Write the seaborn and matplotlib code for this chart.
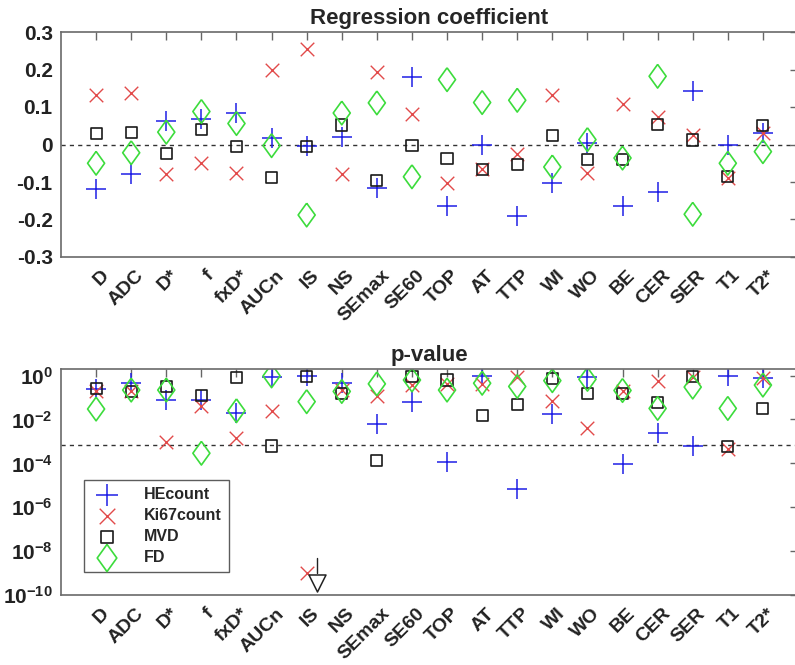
import numpy as np
import pandas as pd
import matplotlib
matplotlib.use("Agg")
import matplotlib.pyplot as plt
import matplotlib.transforms as mtransforms
import seaborn as sns

categories = ["D", "ADC", "D*", "f", "fxD*", "AUCn", "IS", "NS", "SEmax", "SE60",
              "TOP", "AT", "TTP", "WI", "WO", "BE", "CER", "SER", "T1", "T2*"]

coef_he = [-0.118, -0.079, 0.063, 0.068, 0.084, 0.018, -0.004, 0.020, -0.115, 0.181,
           -0.163, 0.000, -0.190, -0.102, 0.003, -0.163, -0.128, 0.144, 0.000, 0.031]
coef_ki67 = [0.133, 0.137, -0.079, -0.049, -0.076, 0.199, 0.255, -0.078, 0.194, 0.081,
             -0.102, -0.064, -0.026, 0.133, -0.077, 0.109, 0.073, 0.025, -0.088, 0.031]
coef_mvd = [0.029, 0.033, -0.025, 0.041, -0.005, -0.089, -0.005, 0.052, -0.096, -0.002,
            -0.038, -0.066, -0.053, 0.025, -0.040, -0.040, 0.053, 0.012, -0.086, 0.051]
coef_fd = [-0.050, -0.022, 0.033, 0.088, 0.056, -0.003, -0.188, 0.084, 0.111, -0.086,
           0.173, 0.112, 0.118, -0.060, 0.013, -0.036, 0.182, -0.186, -0.050, -0.019]

p_he = [0.24, 0.45, 0.078, 0.078, 0.019, 0.83, 0.95, 0.45, 0.006, 0.06,
        1.1e-4, 0.93, 6.8e-6, 0.017, 0.9, 9.1e-5, 2.3e-3, 6.2e-4, 0.95, 0.81]
p_ki67 = [0.2, 0.19, 9.8e-4, 0.042, 1.4e-3, 0.025, 9.8e-10, 0.22, 0.12, 0.37,
          0.42, 0.42, 0.89, 0.069, 4.0e-3, 0.19, 0.59, 0.89, 4.4e-4, 0.81]
p_mvd = [0.26, 0.19, 0.32, 0.12, 0.81, 6.2e-4, 0.95, 0.155, 1.4e-4, 0.93,
         0.63, 0.015, 0.046, 0.76, 0.155, 0.155, 0.059, 0.89, 5.8e-4, 0.032]
p_fd = [0.030, 0.22, 0.22, 2.9e-4, 0.025, 0.97, 0.065, 0.19, 0.42, 0.63,
        0.22, 0.45, 0.32, 0.59, 0.68, 0.21, 0.032, 0.30, 0.032, 0.37]

p_threshold = 6.6e-4
offscale_p = 3.6e-10      # off-scale marker at IS
offscale_tail = 5.0e-9

series = ["HEcount", "Ki67count", "MVD", "FD"]

sns.set_style("white")
plt.rcParams["font.family"] = ["Liberation Sans", "DejaVu Sans"]
plt.rcParams["font.weight"] = "bold"
plt.rcParams["mathtext.fontset"] = "custom"
plt.rcParams["mathtext.rm"] = "Liberation Sans:bold"
plt.rcParams["mathtext.bf"] = "Liberation Sans:bold"
plt.rcParams["mathtext.default"] = "bf"

diamond = [(0, 1), (0.72, 0), (0, -1), (-0.72, 0), (0, 1)]
styles = {
    "HEcount": dict(marker="+", s=190, color="#1f1fe6", linewidths=1.1),
    "Ki67count": dict(marker="x", s=95, color="#e24a4a", linewidths=1.0),
    "MVD": dict(marker="s", s=64, facecolor="none", edgecolor="#1a1a1a", linewidths=1.2),
    "FD": dict(marker=diamond, s=290, facecolor="none", edgecolor="#3cdc3c", linewidths=1.2),
}

coef = dict(zip(series, [coef_he, coef_ki67, coef_mvd, coef_fd]))
pval = dict(zip(series, [p_he, p_ki67, p_mvd, p_fd]))
x = np.arange(1, len(categories) + 1)

W, H = 795, 665
fig = plt.figure(figsize=(W / 100, H / 100), dpi=100)
ax1 = fig.add_axes([61 / W, 1 - 257 / H, (798 - 61) / W, (257 - 32) / H])
ax2 = fig.add_axes([61 / W, 1 - 595 / H, (798 - 61) / W, (595 - 369) / H])

for name in series:
    sns.scatterplot(x=x, y=coef[name], ax=ax1, legend=False, **styles[name])
    sns.scatterplot(x=x, y=pval[name], ax=ax2, label=name, **styles[name])

ax1.axhline(0, color="#333333", ls=(0, (3, 3)), lw=1.0, zorder=0)
ax2.axhline(p_threshold, color="#333333", ls=(0, (3, 3)), lw=1.0, zorder=0)

# off-scale marker at IS
xi = categories.index("IS") + 1 + 0.3
ax2.plot([xi, xi], [offscale_tail, 1.0e-9], color="#222222", lw=1.0)
ax2.scatter([xi], [offscale_p], marker="v", s=150, facecolor="white",
            edgecolor="#222222", linewidths=1.1, zorder=5)

ax2.set_yscale("log")
ax1.set_ylim(-0.3, 0.3)
ax1.set_yticks(np.round(np.arange(-0.3, 0.31, 0.1), 1))
ax1.set_yticklabels(["-0.3", "-0.2", "-0.1", "0", "0.1", "0.2", "0.3"])
ax2.set_ylim(1e-10, 2)
ax2.set_yticks([1e-10, 1e-8, 1e-6, 1e-4, 1e-2, 1])
ax2.set_yticklabels([r"$\mathbf{10^{-10}}$", r"$\mathbf{10^{-8}}$", r"$\mathbf{10^{-6}}$",
                     r"$\mathbf{10^{-4}}$", r"$\mathbf{10^{-2}}$", r"$\mathbf{10^{0}}$"])
ax2.yaxis.set_minor_locator(matplotlib.ticker.NullLocator())

offset = mtransforms.ScaledTranslation(10 / 100, -16 / 100, fig.dpi_scale_trans)
for ax, title in [(ax1, "Regression coefficient"), (ax2, "p-value")]:
    ax.set_xlim(0, len(categories) + 1)
    ax.set_xticks(x)
    ax.set_xticklabels([])
    for xv, lab in zip(x, categories):
        ax.text(xv, 0, lab, transform=ax.get_xaxis_transform() + offset,
                rotation=45, ha="right", va="center", rotation_mode="anchor",
                fontsize=14, fontweight="bold", color="#222222")
    ax.tick_params(axis="y", labelsize=15, colors="#222222")
    ax.tick_params(direction="in", length=6, width=1.0, top=True, right=True,
                   color="#666666", pad=6)
    for sp in ax.spines.values():
        sp.set_color("#6a6a6a")
        sp.set_linewidth(1.2)
        sp.set_visible(True)
    ax.spines["right"].set_visible(False)
    ax.set_title(title, fontsize=16, fontweight="bold", pad=6)
    ax.set_xlabel("")
    ax.set_ylabel("")
    for lab in ax.get_yticklabels():
        lab.set_fontweight("bold")

leg = ax2.legend(loc="lower left", bbox_to_anchor=(0.031, 0.10), frameon=True,
                 fancybox=False, edgecolor="#333333", prop=dict(weight="bold", size=11.5),
                 handletextpad=1.3, borderpad=0.45, labelspacing=0.38, borderaxespad=0,
                 markerscale=1.15)
leg.get_frame().set_linewidth(1.0)

fig.savefig("out.png", dpi=100)
